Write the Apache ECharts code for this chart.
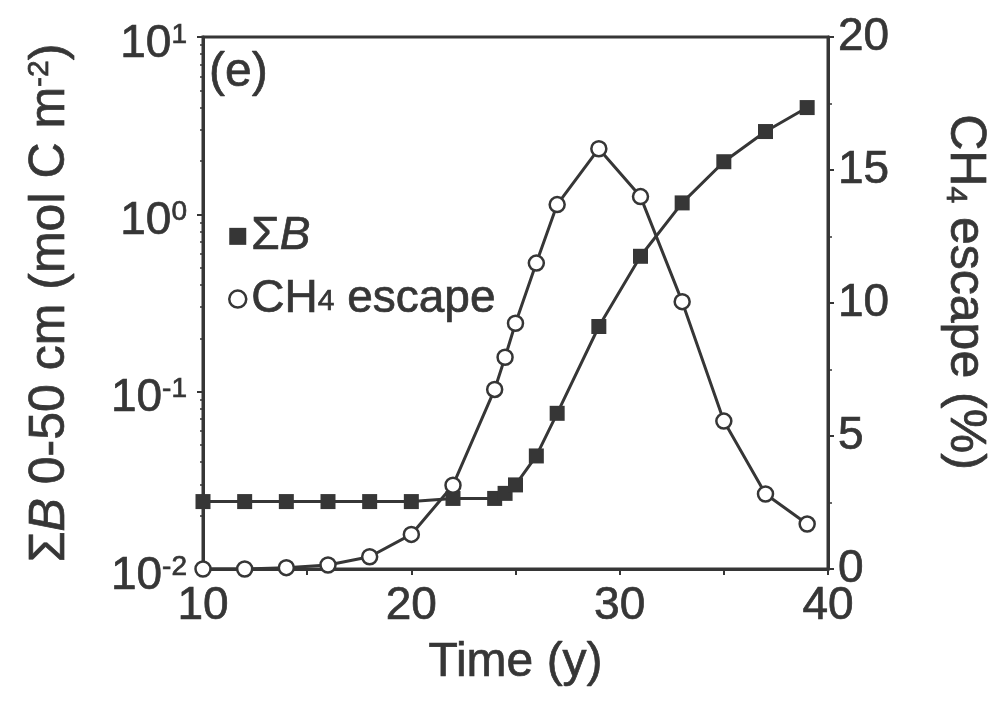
<!DOCTYPE html>
<html lang="en">

<head>
    <meta charset="UTF-8">
    <title>Sum B and CH4 escape</title>
    <script src="https://cdn.jsdelivr.net/npm/echarts@6/dist/echarts.min.js"></script>
    <style>
        body {
            margin: 0;
            padding: 0;
            background: #fff;
        }
    </style>
</head>

<body>
    <div id="main" style="width: 1003px;height: 701px;"></div>
    <script>
        // values
        var years = [10, 12, 14, 16, 18, 20, 22, 24, 24.5, 25, 26, 27, 29, 31, 33, 35, 37, 39];
        var sumB = [0.024, 0.024, 0.024, 0.024, 0.024, 0.024, 0.025, 0.025, 0.0267, 0.0298, 0.0434, 0.0755, 0.233, 0.58, 1.16, 1.98, 2.93, 4.0];
        var ch4Escape = [0, 0, 0.05, 0.15, 0.46, 1.3, 3.15, 6.75, 7.96, 9.24, 11.5, 13.7, 15.8, 14.0, 10.05, 5.56, 2.82, 1.69];
        var xTicks = [10, 20, 30, 40];

        var ink = '#363636';
        var font = 'Liberation Sans, Arial, Helvetica, sans-serif';
        // a thin outline makes the glyphs look as heavy as the scanned ones
        var heavy = { textBorderColor: ink, textBorderWidth: 0.7 };

        var bData = [];
        var cData = [];
        years.forEach(function (y, i) {
            bData.push([y, sumB[i]]);
            cData.push([y, ch4Escape[i]]);
        });

        function txt(size, extra) {
            return Object.assign({ fontSize: size, lineHeight: size, color: ink }, heavy, extra || {});
        }

        var chart = echarts.init(document.getElementById('main'));
        var option = {
            animation: false,
            textStyle: { fontFamily: font, color: ink },
            grid: {
                left: 203, right: 175, top: 37, bottom: 132,
                show: true, borderColor: ink, borderWidth: 3
            },
            title: {
                text: '(e)', left: 204, top: 44,
                textStyle: Object.assign({ fontSize: 48, fontWeight: 'normal', color: ink, fontFamily: font }, heavy)
            },
            legend: {
                orient: 'vertical', left: 228, top: 213, padding: 0,
                itemWidth: 17, itemHeight: 17, itemGap: 16,
                textStyle: {
                    fontSize: 46, color: ink,
                    rich: {
                        n: txt(46, { lineHeight: 36 }),
                        i: txt(46, { lineHeight: 36, fontStyle: 'italic' }),
                        sub: txt(30, { lineHeight: 22, verticalAlign: 'bottom' })
                    }
                },
                formatter: function (name) {
                    if (name === 'ΣB') return '{n|Σ}{i|B}';
                    return '{n|CH}{sub|4}{n| escape}';
                },
                data: [
                    { name: 'ΣB', icon: 'rect', itemStyle: { color: ink } },
                    { name: 'CH4 escape', icon: 'circle', itemStyle: { color: '#fff', borderColor: ink, borderWidth: 2.5 } }
                ]
            },
            xAxis: {
                type: 'value', min: xTicks[0], max: xTicks[xTicks.length - 1], interval: 10,
                name: 'Time (y)', nameLocation: 'middle', nameGap: 70,
                nameTextStyle: txt(48),
                axisLine: { lineStyle: { color: ink, width: 3 } },
                axisTick: { length: 6, lineStyle: { color: ink, width: 2 } },
                minorTick: { show: true, splitNumber: 2, length: 6, lineStyle: { color: ink, width: 2 } },
                axisLabel: txt(46, { margin: 14 }),
                splitLine: { show: false }
            },
            yAxis: [
                {
                    type: 'log', logBase: 10, min: 0.01, max: 10,
                    name: '{n|Σ}{i|B}{n| 0-50 cm (mol C m}{s|-2}{n|)}',
                    nameLocation: 'middle', nameRotate: 90, nameGap: 128,
                    nameTextStyle: {
                        rich: {
                            n: txt(50),
                            i: txt(50, { fontStyle: 'italic' }),
                            s: txt(30, { verticalAlign: 'top' })
                        }
                    },
                    axisLine: { lineStyle: { color: ink, width: 3 } },
                    axisTick: { length: 6, lineStyle: { color: ink, width: 2 } },
                    minorTick: { show: true, splitNumber: 9, length: 3, lineStyle: { color: ink, width: 1.5 } },
                    axisLabel: {
                        margin: 16,
                        padding: [14, 0, 0, 0],
                        formatter: function (v) {
                            return '{b|10}{s|' + Math.round(Math.log10(v)) + '}';
                        },
                        rich: {
                            b: txt(46),
                            s: txt(28, { verticalAlign: 'top' })
                        }
                    },
                    splitLine: { show: false }
                },
                {
                    type: 'value', min: 0, max: 20, interval: 5, position: 'right',
                    name: '{n|CH}{sub|4}{n| escape (%)}',
                    nameLocation: 'middle', nameRotate: -90, nameGap: 112,
                    nameTextStyle: {
                        padding: [0, 22, 0, 0],
                        rich: {
                            n: txt(50),
                            sub: txt(30, { verticalAlign: 'bottom' })
                        }
                    },
                    axisLine: { show: true, lineStyle: { color: ink, width: 3 } },
                    axisTick: { show: true, length: 6, lineStyle: { color: ink, width: 2 } },
                    minorTick: { show: true, splitNumber: 2, length: 4, lineStyle: { color: ink, width: 1.5 } },
                    axisLabel: txt(46, { margin: 10 }),
                    splitLine: { show: false }
                }
            ],
            series: [
                {
                    name: 'ΣB', type: 'line', yAxisIndex: 0, data: bData,
                    symbol: 'rect', symbolSize: 15,
                    lineStyle: { color: ink, width: 3 },
                    itemStyle: { color: ink },
                    emphasis: { disabled: true }
                },
                {
                    name: 'CH4 escape', type: 'line', yAxisIndex: 1, data: cData,
                    symbol: 'circle', symbolSize: 15, showAllSymbol: true,
                    lineStyle: { color: ink, width: 3 },
                    itemStyle: { color: '#fff', borderColor: ink, borderWidth: 2.5 },
                    emphasis: { disabled: true }
                }
            ]
        };
        chart.setOption(option);
    </script>
</body>

</html>
